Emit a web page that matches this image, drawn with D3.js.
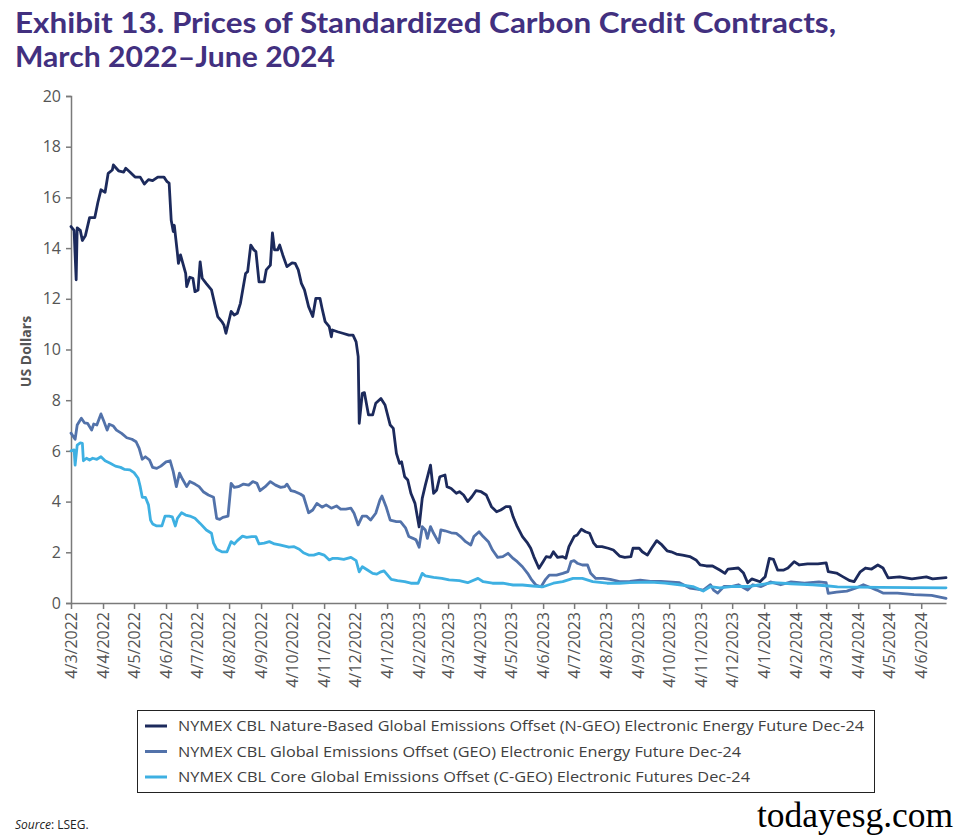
<!DOCTYPE html>
<html>
<head>
<meta charset="utf-8">
<script src="https://cdn.jsdelivr.net/npm/d3@7"></script>
<style>
  html, body { margin: 0; padding: 0; background: #fff; }
  svg { display: block; }
</style>
</head>
<body>
<svg id="chart" width="963" height="837"></svg>
<script>
const titleLines = ["Exhibit 13. Prices of Standardized Carbon Credit Contracts,", "March 2022\u2013June 2024"];
const yAxisTitle = "US Dollars";
const yTicks = [0, 2, 4, 6, 8, 10, 12, 14, 16, 18, 20];
const xTickLabels = ["4/3/2022","4/4/2022","4/5/2022","4/6/2022","4/7/2022","4/8/2022","4/9/2022","4/10/2022","4/11/2022","4/12/2022",
  "4/1/2023","4/2/2023","4/3/2023","4/4/2023","4/5/2023","4/6/2023","4/7/2023","4/8/2023","4/9/2023","4/10/2023","4/11/2023","4/12/2023",
  "4/1/2024","4/2/2024","4/3/2024","4/4/2024","4/5/2024","4/6/2024"];
const dateDomain = ["2022-03-04", "2024-06-28"];
const seriesNames = [
  "NYMEX CBL Nature-Based Global Emissions Offset (N-GEO) Electronic Energy Future Dec-24",
  "NYMEX CBL Global Emissions Offset (GEO) Electronic Energy Future Dec-24",
  "NYMEX CBL Core Global Emissions Offset (C-GEO) Electronic Futures Dec-24"
];
const seriesColors = ["#1c2a5c", "#5272aa", "#3eb0e2"];

const ngeo = [
["2022-03-04",14.85],["2022-03-07",14.7],["2022-03-09",12.75],["2022-03-10",14.8],["2022-03-13",14.7],["2022-03-15",14.3],["2022-03-18",14.5],
["2022-03-22",15.2],["2022-03-27",15.2],["2022-03-30",15.8],["2022-04-02",16.3],["2022-04-06",16.2],["2022-04-09",16.95],["2022-04-13",17.08],
["2022-04-14",17.28],["2022-04-19",17.05],["2022-04-24",17.0],["2022-04-26",17.15],["2022-04-30",17.0],["2022-05-05",16.8],["2022-05-10",16.8],
["2022-05-14",16.53],["2022-05-18",16.7],["2022-05-22",16.66],["2022-05-27",16.8],["2022-06-02",16.8],["2022-06-05",16.62],["2022-06-07",16.56],
["2022-06-09",15.1],["2022-06-11",14.65],["2022-06-12",14.9],["2022-06-15",13.8],["2022-06-16",13.4],["2022-06-18",13.73],["2022-06-23",13.0],
["2022-06-24",12.48],["2022-06-27",12.85],["2022-06-30",12.81],["2022-07-02",12.28],["2022-07-05",12.35],["2022-07-07",13.46],["2022-07-09",12.81],
["2022-07-13",12.6],["2022-07-18",12.35],["2022-07-21",11.82],["2022-07-24",11.3],["2022-07-28",11.1],["2022-07-30",10.97],["2022-08-01",10.64],
["2022-08-06",11.5],["2022-08-09",11.36],["2022-08-12",11.43],["2022-08-15",11.82],["2022-08-20",13.0],["2022-08-22",13.07],["2022-08-25",14.12],
["2022-08-28",13.93],["2022-08-30",13.86],["2022-09-02",12.67],["2022-09-07",12.67],["2022-09-09",13.14],["2022-09-13",13.33],["2022-09-15",14.6],
["2022-09-17",13.93],["2022-09-20",13.93],["2022-09-22",14.12],["2022-09-25",13.73],["2022-09-29",13.27],["2022-10-04",13.42],["2022-10-07",13.4],
["2022-10-10",13.14],["2022-10-13",12.61],["2022-10-16",12.35],["2022-10-20",11.69],["2022-10-24",11.3],["2022-10-27",12.02],["2022-10-31",12.02],
["2022-11-02",11.63],["2022-11-05",11.1],["2022-11-09",10.9],["2022-11-11",10.5],["2022-11-12",10.77],["2022-11-17",10.7],["2022-11-22",10.64],
["2022-11-28",10.57],["2022-12-02",10.57],["2022-12-05",10.3],["2022-12-07",9.72],["2022-12-08",7.09],["2022-12-11",8.27],["2022-12-13",8.3],
["2022-12-17",7.42],["2022-12-21",7.42],["2022-12-24",7.88],["2022-12-29",8.07],["2023-01-02",7.81],["2023-01-07",7.02],["2023-01-10",6.89],
["2023-01-13",5.9],["2023-01-16",5.51],["2023-01-18",5.57],["2023-01-21",4.98],["2023-01-24",4.85],["2023-01-27",4.33],["2023-01-31",3.93],
["2023-02-04",3.0],["2023-02-07",4.13],["2023-02-10",4.65],["2023-02-15",5.44],["2023-02-18",4.33],["2023-02-21",4.46],["2023-02-24",4.98],
["2023-03-01",5.05],["2023-03-03",4.59],["2023-03-07",4.52],["2023-03-12",4.33],["2023-03-15",4.39],["2023-03-19",4.26],["2023-03-23",4.0],
["2023-03-27",4.19],["2023-03-31",4.43],["2023-04-05",4.39],["2023-04-10",4.26],["2023-04-15",3.8],["2023-04-20",3.6],["2023-04-24",3.67],
["2023-04-29",3.8],["2023-05-03",3.8],["2023-05-06",3.4],["2023-05-10",3.01],["2023-05-15",2.62],["2023-05-20",2.36],["2023-05-23",2.16],
["2023-05-26",1.83],["2023-05-31",1.37],["2023-06-04",1.63],["2023-06-07",1.83],["2023-06-11",1.8],["2023-06-14",2.02],["2023-06-18",1.8],
["2023-06-23",1.83],["2023-06-26",1.76],["2023-06-29",2.22],["2023-07-04",2.62],["2023-07-07",2.68],["2023-07-11",2.91],["2023-07-15",2.81],
["2023-07-19",2.75],["2023-07-23",2.36],["2023-07-26",2.22],["2023-07-31",2.22],["2023-08-06",2.16],["2023-08-11",2.09],["2023-08-17",1.85],
["2023-08-22",1.8],["2023-08-28",1.83],["2023-08-30",2.16],["2023-09-05",2.16],["2023-09-08",2.02],["2023-09-13",1.89],["2023-09-17",2.16],
["2023-09-22",2.46],["2023-09-27",2.29],["2023-10-02",2.06],["2023-10-06",2.02],["2023-10-11",1.93],["2023-10-17",1.89],["2023-10-24",1.83],
["2023-10-30",1.7],["2023-11-03",1.5],["2023-11-09",1.46],["2023-11-15",1.46],["2023-11-22",1.3],["2023-11-27",1.17],["2023-11-30",1.34],
["2023-12-10",1.38],["2023-12-15",1.18],["2023-12-19",0.8],["2023-12-23",0.95],["2023-12-31",0.84],["2024-01-05",1.04],["2024-01-09",1.76],
["2024-01-13",1.72],["2024-01-17",1.3],["2024-01-23",1.3],["2024-01-27",1.38],["2024-02-02",1.63],["2024-02-07",1.5],["2024-02-15",1.54],
["2024-02-25",1.54],["2024-03-04",1.58],["2024-03-06",1.24],["2024-03-14",1.18],["2024-03-20",1.04],["2024-03-27",0.88],["2024-03-31",0.84],
["2024-04-06",1.23],["2024-04-11",1.38],["2024-04-17",1.34],["2024-04-23",1.5],["2024-04-28",1.38],["2024-05-03",0.99],["2024-05-14",1.03],
["2024-05-26",0.95],["2024-06-09",1.03],["2024-06-15",0.95],["2024-06-28",1.0]
];

const geo = [
["2022-03-04",6.7],["2022-03-08",6.46],["2022-03-10",7.02],["2022-03-14",7.29],["2022-03-17",7.11],["2022-03-20",7.09],["2022-03-24",6.82],
["2022-03-26",7.06],["2022-03-29",7.02],["2022-04-02",7.46],["2022-04-05",7.15],["2022-04-08",6.82],["2022-04-10",7.05],["2022-04-14",6.98],
["2022-04-17",6.82],["2022-04-22",6.69],["2022-04-27",6.52],["2022-05-02",6.46],["2022-05-06",6.36],["2022-05-09",6.1],["2022-05-12",5.67],
["2022-05-15",5.77],["2022-05-19",5.64],["2022-05-22",5.35],["2022-05-26",5.31],["2022-05-30",5.4],["2022-06-04",5.57],["2022-06-08",5.61],
["2022-06-11",5.18],["2022-06-14",4.59],["2022-06-17",5.12],["2022-06-20",4.88],["2022-06-24",4.59],["2022-06-27",4.79],["2022-07-02",4.69],
["2022-07-06",4.59],["2022-07-10",4.39],["2022-07-15",4.26],["2022-07-20",4.17],["2022-07-23",3.34],["2022-07-26",3.3],["2022-07-29",3.38],
["2022-08-03",3.43],["2022-08-06",4.72],["2022-08-09",4.56],["2022-08-13",4.59],["2022-08-18",4.69],["2022-08-23",4.65],["2022-08-27",4.79],
["2022-08-31",4.72],["2022-09-03",4.43],["2022-09-08",4.59],["2022-09-13",4.79],["2022-09-18",4.65],["2022-09-23",4.56],["2022-09-27",4.59],
["2022-09-29",4.69],["2022-10-03",4.43],["2022-10-07",4.39],["2022-10-12",4.3],["2022-10-15",4.22],["2022-10-20",3.56],["2022-10-24",3.67],
["2022-10-28",3.93],["2022-11-02",3.78],["2022-11-06",3.87],["2022-11-11",3.74],["2022-11-16",3.83],["2022-11-20",3.7],["2022-11-25",3.7],
["2022-11-30",3.74],["2022-12-03",3.54],["2022-12-07",3.08],["2022-12-11",3.43],["2022-12-15",3.43],["2022-12-19",3.27],["2022-12-24",3.54],
["2022-12-28",4.06],["2022-12-30",4.22],["2023-01-03",3.8],["2023-01-07",3.27],["2023-01-13",3.21],["2023-01-17",3.21],["2023-01-22",2.95],
["2023-01-25",2.62],["2023-01-29",2.55],["2023-02-01",2.49],["2023-02-04",2.2],["2023-02-07",3.01],["2023-02-10",2.88],["2023-02-12",2.55],
["2023-02-15",3.01],["2023-02-18",2.75],["2023-02-23",2.38],["2023-02-25",2.88],["2023-03-01",2.85],["2023-03-07",2.77],["2023-03-12",2.75],
["2023-03-16",2.62],["2023-03-21",2.42],["2023-03-26",2.29],["2023-03-29",2.62],["2023-04-03",2.81],["2023-04-07",2.62],["2023-04-12",2.42],
["2023-04-16",2.09],["2023-04-21",1.8],["2023-04-26",1.83],["2023-05-01",1.96],["2023-05-06",1.76],["2023-05-10",1.63],["2023-05-15",1.43],
["2023-05-20",1.17],["2023-05-24",0.91],["2023-05-28",0.71],["2023-06-02",0.64],["2023-06-06",0.91],["2023-06-10",1.1],["2023-06-17",1.1],
["2023-06-23",1.17],["2023-06-28",1.24],["2023-07-01",1.63],["2023-07-04",1.67],["2023-07-07",1.57],["2023-07-12",1.5],["2023-07-17",1.5],
["2023-07-20",1.17],["2023-07-25",0.97],["2023-08-01",0.97],["2023-08-08",0.93],["2023-08-17",0.84],["2023-08-27",0.85],["2023-09-06",0.9],
["2023-09-16",0.85],["2023-09-26",0.85],["2023-10-14",0.8],["2023-10-24",0.59],["2023-10-31",0.55],["2023-11-06",0.51],["2023-11-13",0.72],
["2023-11-16",0.51],["2023-11-20",0.39],["2023-11-26",0.65],["2023-12-03",0.65],["2023-12-10",0.72],["2023-12-19",0.51],["2023-12-24",0.72],
["2024-01-01",0.65],["2024-01-10",0.83],["2024-01-20",0.72],["2024-01-30",0.83],["2024-02-12",0.78],["2024-02-26",0.83],["2024-03-04",0.8],
["2024-03-06",0.38],["2024-03-14",0.43],["2024-03-24",0.47],["2024-04-02",0.59],["2024-04-09",0.72],["2024-04-17",0.59],["2024-04-22",0.51],
["2024-04-28",0.39],["2024-05-12",0.39],["2024-05-28",0.33],["2024-06-14",0.3],["2024-06-28",0.18]
];

const cgeo = [
["2022-03-04",6.0],["2022-03-07",6.04],["2022-03-08",5.44],["2022-03-10",6.23],["2022-03-13",6.32],["2022-03-15",6.3],["2022-03-16",5.61],
["2022-03-19",5.71],["2022-03-22",5.64],["2022-03-25",5.71],["2022-03-29",5.67],["2022-04-02",5.77],["2022-04-06",5.61],["2022-04-11",5.51],
["2022-04-16",5.4],["2022-04-21",5.35],["2022-04-25",5.27],["2022-04-30",5.25],["2022-05-04",5.14],["2022-05-08",4.92],["2022-05-10",4.59],
["2022-05-12",4.17],["2022-05-15",4.17],["2022-05-18",3.87],["2022-05-20",3.27],["2022-05-22",3.12],["2022-05-26",3.04],["2022-05-31",3.04],
["2022-06-03",3.43],["2022-06-07",3.43],["2022-06-10",3.4],["2022-06-13",3.04],["2022-06-15",3.34],["2022-06-19",3.56],["2022-06-23",3.47],
["2022-06-27",3.43],["2022-07-02",3.34],["2022-07-07",3.14],["2022-07-13",2.88],["2022-07-18",2.75],["2022-07-20",2.36],["2022-07-23",2.12],
["2022-07-28",2.02],["2022-08-02",2.02],["2022-08-06",2.42],["2022-08-09",2.33],["2022-08-12",2.46],["2022-08-17",2.64],["2022-08-21",2.59],
["2022-08-26",2.62],["2022-08-30",2.62],["2022-09-02",2.33],["2022-09-07",2.36],["2022-09-12",2.42],["2022-09-17",2.33],["2022-09-22",2.29],
["2022-09-26",2.25],["2022-10-01",2.2],["2022-10-06",2.22],["2022-10-11",2.12],["2022-10-15",1.98],["2022-10-20",1.89],["2022-10-25",1.89],
["2022-10-30",1.96],["2022-11-04",1.89],["2022-11-09",1.7],["2022-11-12",1.76],["2022-11-17",1.76],["2022-11-23",1.72],["2022-11-30",1.8],
["2022-12-05",1.67],["2022-12-08",1.23],["2022-12-11",1.43],["2022-12-16",1.3],["2022-12-21",1.17],["2022-12-25",1.14],["2022-12-29",1.23],
["2023-01-01",1.27],["2023-01-08",0.93],["2023-01-14",0.88],["2023-01-21",0.84],["2023-01-27",0.78],["2023-02-03",0.78],["2023-02-07",1.17],
["2023-02-10",1.07],["2023-02-18",1.01],["2023-02-26",0.97],["2023-03-05",0.91],["2023-03-15",0.88],["2023-03-23",0.8],["2023-04-02",0.97],
["2023-04-07",0.84],["2023-04-16",0.78],["2023-04-26",0.78],["2023-05-06",0.71],["2023-05-15",0.71],["2023-05-25",0.67],["2023-06-04",0.64],
["2023-06-14",0.78],["2023-06-23",0.84],["2023-07-03",0.97],["2023-07-12",0.97],["2023-07-22",0.84],["2023-08-05",0.78],["2023-08-17",0.78],
["2023-08-27",0.8],["2023-09-16",0.82],["2023-09-30",0.78],["2023-10-14",0.72],["2023-10-27",0.65],["2023-11-06",0.47],["2023-11-13",0.65],
["2023-11-22",0.6],["2023-12-03",0.65],["2023-12-19",0.65],["2023-12-31",0.72],["2024-01-13",0.8],["2024-01-30",0.76],["2024-02-20",0.72],
["2024-03-04",0.68],["2024-03-15",0.64],["2024-04-25",0.62],["2024-06-28",0.6]
];

const series = [ngeo, geo, cgeo];

const svg = d3.select("#chart");
const parseISO = d3.timeParse("%Y-%m-%d");
const parseTick = d3.timeParse("%d/%m/%Y");

const margin = {left: 71, right: 946, top: 96, bottom: 603};
const x = d3.scaleTime().domain(dateDomain.map(parseISO)).range([margin.left, margin.right]);
const y = d3.scaleLinear().domain([0, 20]).range([margin.bottom, margin.top]);

// Title
const titleColor = "#42307f";
svg.append("text").attr("x", 15).attr("y", 33)
  .attr("font-family", "Lato, 'Open Sans', sans-serif").attr("font-weight", 700).attr("font-size", 29)
  .attr("fill", titleColor).attr("textLength", 821).attr("lengthAdjust", "spacingAndGlyphs")
  .text(titleLines[0]);
svg.append("text").attr("x", 15).attr("y", 67)
  .attr("font-family", "Lato, 'Open Sans', sans-serif").attr("font-weight", 700).attr("font-size", 29)
  .attr("fill", titleColor).attr("textLength", 320).attr("lengthAdjust", "spacingAndGlyphs")
  .text(titleLines[1]);

const axisColor = "#7a7a7a";
const labelColor = "#555";

// Y axis
const yAxis = svg.append("g").attr("transform", `translate(${margin.left},0)`)
  .call(d3.axisLeft(y).tickValues(yTicks).tickSize(5).tickPadding(5).tickFormat(d3.format("d")));
yAxis.select(".domain").attr("stroke", axisColor).attr("stroke-width", 1.5);
yAxis.selectAll(".tick line").attr("stroke", axisColor).attr("stroke-width", 1.5);
yAxis.selectAll(".tick text").attr("fill", labelColor).attr("font-family", "'Open Sans', sans-serif").attr("font-size", 16);

svg.append("text")
  .attr("transform", `translate(31,${(margin.top + margin.bottom) / 2 + 2}) rotate(-90)`)
  .attr("text-anchor", "middle")
  .attr("font-family", "'Open Sans', sans-serif").attr("font-weight", 700).attr("font-size", 14)
  .attr("fill", labelColor).text(yAxisTitle);

// X axis
const xTickDates = xTickLabels.map(parseTick);
const xAxis = svg.append("g").attr("transform", `translate(0,${margin.bottom})`)
  .call(d3.axisBottom(x).tickValues(xTickDates).tickSize(6).tickSizeOuter(0)
    .tickFormat((d, i) => xTickLabels[i]));
xAxis.select(".domain").attr("stroke", axisColor).attr("stroke-width", 1.5);
xAxis.selectAll(".tick line").attr("stroke", axisColor).attr("stroke-width", 1.5);
xAxis.selectAll(".tick text")
  .attr("fill", labelColor).attr("font-family", "'Open Sans', sans-serif").attr("font-size", 16)
  .attr("text-anchor", "end")
  .attr("transform", "rotate(-90)")
  .attr("x", -9).attr("y", 0).attr("dy", "0.35em");

// Lines (draw in legend order; later series on top)
const line = d3.line().x(d => x(parseISO(d[0]))).y(d => y(d[1]));
series.forEach((s, i) => {
  svg.append("path").datum(s)
    .attr("fill", "none").attr("stroke", seriesColors[i]).attr("stroke-width", 2.8)
    .attr("stroke-linejoin", "round").attr("stroke-linecap", "round")
    .attr("d", line);
});

// Legend
const legend = svg.append("g");
legend.append("rect").attr("x", 137.5).attr("y", 710.5).attr("width", 737).attr("height", 82)
  .attr("fill", "#fff").attr("stroke", "#222").attr("stroke-width", 1);
const legendWidths = [686, 563, 572];
seriesNames.forEach((name, i) => {
  const cy = 726 + i * 25.5;
  legend.append("line").attr("x1", 145).attr("x2", 167).attr("y1", cy).attr("y2", cy)
    .attr("stroke", seriesColors[i]).attr("stroke-width", 3);
  legend.append("text").attr("x", 178).attr("y", cy).attr("dy", "0.35em")
    .attr("font-family", "'Open Sans', sans-serif").attr("font-size", 15).attr("fill", "#404040")
    .attr("textLength", legendWidths[i]).attr("lengthAdjust", "spacingAndGlyphs")
    .text(name);
});

// Source
const src = svg.append("text").attr("x", 15).attr("y", 829)
  .attr("font-family", "'Open Sans', sans-serif").attr("font-size", 12).attr("fill", "#222");
src.append("tspan").attr("font-style", "italic").text("Source");
src.append("tspan").text(": LSEG.");

// Watermark
svg.append("text").attr("x", 757).attr("y", 827)
  .attr("font-family", "'Liberation Serif', 'Times New Roman', serif").attr("font-size", 35.5)
  .attr("fill", "#000").text("todayesg.com");
</script>
</body>
</html>
